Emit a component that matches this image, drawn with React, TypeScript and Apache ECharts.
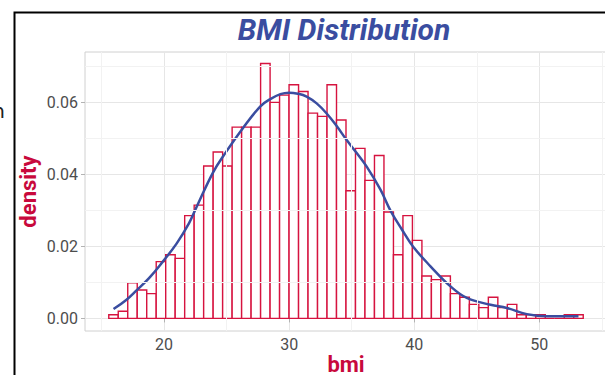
import React, { useEffect, useRef } from "react";
import * as echarts from "echarts";

// Histogram bins (ggplot bins = 50)
const binStart = 15.58;
const binWidth = 0.7586;
const binDensity = [
  0.0010, 0.0020, 0.0099, 0.0079, 0.0069, 0.0158, 0.0177, 0.0167, 0.0286, 0.0315,
  0.0424, 0.0463, 0.0424, 0.0532, 0.0532, 0.0532, 0.0709, 0.0601, 0.0621, 0.0650,
  0.0631, 0.0571, 0.0562, 0.0650, 0.0552, 0.0355, 0.0473, 0.0384, 0.0453, 0.0296,
  0.0177, 0.0286, 0.0217, 0.0118, 0.0108, 0.0118, 0.0069, 0.0059, 0.0039, 0.0030,
  0.0059, 0.0030, 0.0039, 0.0010, 0.0010, 0.0010, 0, 0, 0.0010, 0.0010,
];

// Kernel density curve
const densityX = [
  15.96, 17.0, 17.8, 18.8, 19.9, 21.0, 22.0, 22.6, 23.9, 24.8, 26.3, 27.7, 28.5, 29.3,
  30.0, 30.7, 31.4, 32.2, 33.0, 33.8, 34.6, 35.4, 36.2, 37.3, 38.1, 39.0, 39.9, 41.3,
  42.9, 44.2, 46.1, 47.4, 49.0, 50.6, 53.13,
];
const densityY = [
  0.0026, 0.0052, 0.0078, 0.0112, 0.0158, 0.0208, 0.0265, 0.0310, 0.0405, 0.0455, 0.0529,
  0.0590, 0.0610, 0.0624, 0.0628, 0.0625, 0.0617, 0.0598, 0.0570, 0.0535, 0.0496, 0.0460,
  0.0422, 0.0358, 0.0300, 0.0248, 0.0200, 0.0145, 0.0089, 0.0057, 0.0038, 0.0029, 0.0012,
  0.0006, 0.0006,
];

const xTicks = [20, 30, 40, 50];
const yTicks = [0, 0.02, 0.04, 0.06];
const xMinor = [15, 25, 35, 45, 55];
const yMinor = [0.01, 0.03, 0.05, 0.07];
const xRange = [13.68, 55.41];
const yRange = [-0.0035, 0.0741];

const titleText = "BMI Distribution";
const xName = "bmi";
const yName = "density";

export default function App() {
  const ref = useRef<HTMLDivElement>(null);
  useEffect(() => {
    if (!ref.current) return;
    const chart = echarts.init(ref.current, null, { renderer: "svg" });
    const bins = binDensity.map((d, i) => [
      binStart + i * binWidth,
      binStart + (i + 1) * binWidth,
      d,
    ]);
    const curve = densityX.map((x, i) => [x, densityY[i]]);
    const labelStyle = { color: "#4d4d4d", fontSize: 16, fontFamily: "Roboto" };
    const nameStyle = {
      color: "#C8093C",
      fontSize: 22,
      fontWeight: "bold" as const,
      fontFamily: "Roboto",
      lineHeight: 22,
    };
    chart.setOption({
      animation: false,
      backgroundColor: "#ffffff",
      grid: {
        left: 85,
        top: 52,
        width: 522,
        height: 279,
        outerBoundsMode: "none",
        containLabel: false,
        show: true,
        borderColor: "#d0d0d0",
        borderWidth: 1,
        backgroundColor: "transparent",
      },
      xAxis: {
        type: "value",
        min: xRange[0],
        max: xRange[1],
        splitNumber: 4,
        axisLine: { show: false },
        axisTick: { show: true, length: 4, lineStyle: { color: "#b3b3b3" }, customValues: xTicks },
        axisLabel: { ...labelStyle, margin: 5, customValues: xTicks },
        splitLine: { show: true, lineStyle: { color: "#e6e6e6", width: 1 } },
        name: xName,
        nameLocation: "middle",
        nameGap: 22,
        nameMoveOverlap: false,
        nameTextStyle: nameStyle,
      },
      yAxis: {
        type: "value",
        min: yRange[0],
        max: yRange[1],
        splitNumber: 4,
        axisLine: { show: false },
        axisTick: { show: true, length: 4, lineStyle: { color: "#b3b3b3" }, customValues: yTicks },
        axisLabel: {
          ...labelStyle,
          margin: 7,
          customValues: yTicks,
          formatter: (v: number) => v.toFixed(2),
        },
        splitLine: { show: true, lineStyle: { color: "#e6e6e6", width: 1 } },
        name: yName,
        nameLocation: "middle",
        nameGap: 46,
        nameMoveOverlap: false,
        nameTextStyle: nameStyle,
      },
      graphic: [
        {
          type: "polyline",
          shape: { points: [[14.5, 375], [14.5, 12.5], [606, 12.5]] },
          style: { stroke: "#000", lineWidth: 2, fill: "none" },
          silent: true,
        },
        {
          type: "text",
          x: 5,
          y: 111,
          style: {
            text: "n",
            fill: "#222",
            font: "20px 'DejaVu Sans'",
            textAlign: "right",
            textVerticalAlign: "middle",
          },
          silent: true,
        },
        {
          type: "text",
          x: 344,
          y: 29,
          style: {
            text: titleText,
            fill: "#3A4DA0",
            font: "italic bold 30px Roboto",
            textAlign: "center",
            textVerticalAlign: "middle",
          },
          silent: true,
        },
      ],
      series: [
        {
          type: "line",
          data: [],
          z: 1,
          silent: true,
          markLine: {
            silent: true,
            symbol: "none",
            label: { show: false },
            lineStyle: { color: "#f2f2f2", type: "solid", width: 1 },
            data: [
              ...xMinor.map((v) => ({ xAxis: v })),
              ...yMinor.map((v) => ({ yAxis: v })),
            ],
          },
        },
        {
          type: "custom",
          z: 2,
          data: bins,
          encode: { x: [0, 1], y: 2 },
          renderItem: (params: any, api: any) => {
            const p0 = api.coord([api.value(0), api.value(2)]);
            const p1 = api.coord([api.value(1), 0]);
            return {
              type: "rect",
              shape: { x: p0[0], y: p0[1], width: p1[0] - p0[0], height: p1[1] - p0[1] },
              style: { fill: "#ffffff", stroke: "#D6133F", lineWidth: 1.4 },
            };
          },
        },
        {
          type: "line",
          z: 3,
          data: curve,
          smooth: 0.4,
          showSymbol: false,
          lineStyle: { color: "#3A4DA0", width: 2.5 },
        },
      ],
    });
    return () => chart.dispose();
  }, []);
  return (
    <div
      ref={ref}
      style={{ position: "absolute", left: 0, top: 0, width: 605, height: 375 }}
    />
  );
}
